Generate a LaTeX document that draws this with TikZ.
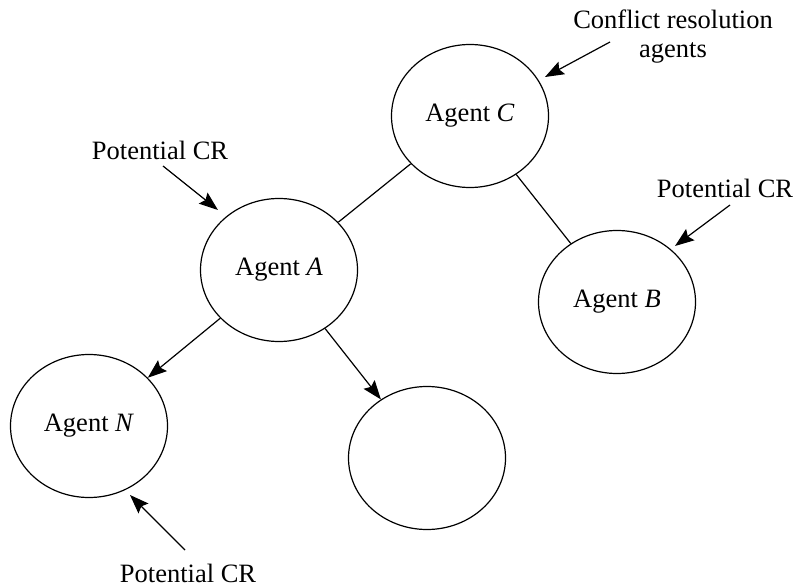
\documentclass[tikz,border=0pt]{standalone}
\usepackage{fontspec}
\setmainfont{Liberation Serif}
\usetikzlibrary{shapes.geometric,arrows.meta}
\begin{document}
\begin{tikzpicture}[x=1pt,y=-1pt,
  agent/.style={draw,ellipse,line width=1.2pt,inner sep=0pt,
    minimum width=157pt,minimum height=143pt,font=\fontsize{26.5}{31}\selectfont},
  link/.style={line width=1.2pt},
  pointer/.style={line width=1.2pt,-{Stealth[length=19pt,width=14pt,inset=3pt]}},
  note/.style={font=\fontsize{26.5}{29}\selectfont,align=center,inner sep=0pt}]
\useasboundingbox (0,0) rectangle (797,588);

% agents
\node[agent] (C) at (470,116) {Agent \textit{C}};
\node[agent] (A) at (279,270) {Agent \textit{A}};
\node[agent] (B) at (617,302) {Agent \textit{B}};
\node[agent] (N) at (89,426) {Agent \textit{N}};
\node[agent] (E) at (427,458) {};

% hierarchy links
\draw[link] (C) -- (A);
\draw[link] (C) -- (B);
\draw[pointer] (A) -- (N);
\draw[pointer] (A) -- (E);

% annotations
\node[note] (tC) at (673,37) {Conflict resolution\\agents};
\coordinate (sC) at (610,42);
\coordinate (hC) at (545,77);
\draw[pointer] (sC) -- (hC);

\node[note] (tA) at (160,150) {Potential CR};
\coordinate (sA) at (163,166);
\coordinate (hA) at (218,210);
\draw[pointer] (sA) -- (hA);

\node[note] (tB) at (725,188) {Potential CR};
\coordinate (sB) at (730,205);
\coordinate (hB) at (675,246);
\draw[pointer] (sB) -- (hB);

\node[note] (tN) at (188,573) {Potential CR};
\coordinate (sN) at (185,550);
\coordinate (hN) at (130,495);
\draw[pointer] (sN) -- (hN);
\end{tikzpicture}
\end{document}
